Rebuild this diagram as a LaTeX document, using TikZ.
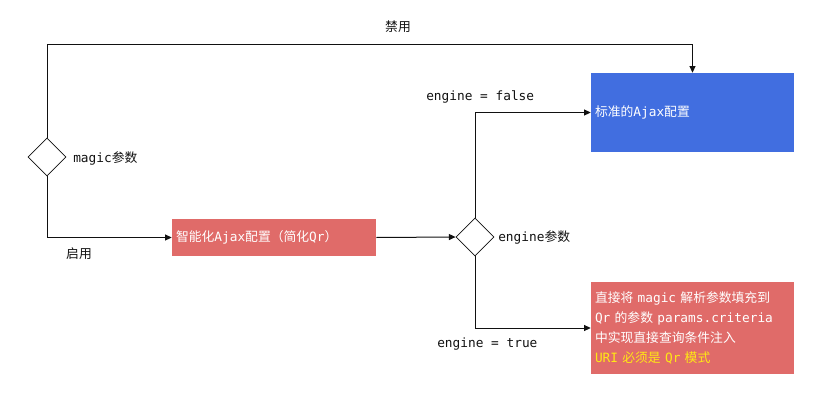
\documentclass[tikz,border=0pt]{standalone}
\usepackage{fontspec}
\setmainfont{DejaVu Sans Mono}
\newfontfamily\zhfont{Noto Sans CJK SC}
\newcommand{\zh}[1]{{\zhfont #1}}
\usepackage{tikz}
\usetikzlibrary{positioning,arrows.meta,calc,shapes.geometric}
\definecolor{cfgblue}{RGB}{65,110,224}
\definecolor{cfgred}{RGB}{224,107,105}
\definecolor{cfgyellow}{RGB}{255,232,20}
\definecolor{cfgink}{RGB}{17,17,17}
\tikzset{
  flow/.style={draw=cfgink, line width=0.75pt, -{Triangle[length=5pt,width=4.5pt]}},
  decision/.style={diamond, draw=cfgink, line width=0.6pt, minimum width=28.5pt,
    minimum height=28.5pt, inner sep=0pt},
  cfgbox/.style={rectangle, inner xsep=3pt, inner ysep=0pt, align=left, text=white,
    font=\fontsize{9.6}{15}\selectfont},
  lbl/.style={font=\fontsize{9.6}{12}\selectfont, text=cfgink, inner sep=0pt},
}
\begin{document}
\begin{tikzpicture}[x=0.75pt, y=-0.75pt]
\useasboundingbox (0,0) rectangle (840,418);

% ================= decisions =================
\node[decision] (magic) at (47,157) {};
\node[decision] (engine) at (475,237) {};

% ================= config boxes =================
\node[cfgbox, fill=cfgblue, text width=146.25pt, minimum height=59.25pt] (std)
  at (692.5,112.5) {\zh{标准的}Ajax\zh{配置}};
\node[cfgbox, fill=cfgred, text width=147pt, minimum height=27.75pt] (smart)
  at (274,237.5) {\zh{智能化}Ajax\zh{配置（简化}Qr\zh{）}};
\node[cfgbox, fill=cfgred, text width=146.25pt, minimum height=69pt] (direct)
  at (692.5,328)
  {\zh{直接将} magic \zh{解析参数填充到}\\
   Qr \zh{的参数} params.criteria\\
   \zh{中实现直接查询条件注入}\\
   \color{cfgyellow}URI \zh{必须是} Qr \zh{模式}};

% ================= connectors =================
% the disabled branch runs over the top of everything
\coordinate (ridge) at (47,44);
\draw[flow] (magic.north) -- (ridge) -| (std.north);
\draw[flow] (magic.south) |- (smart.west);
\draw[flow] (smart.east) -- (engine.west);
\draw[flow] (engine.north) |- (std.west);
\draw[flow] (engine.south) |- (direct.west);

% ================= labels =================
\node[lbl] (offlbl) at (398,27) {\zh{禁用}};
\node[lbl, anchor=west] (magiclbl) at (73,158) {magic\zh{参数}};
\node[lbl] (onlbl) at (79,254) {\zh{启用}};
\node[lbl, anchor=west] (falselbl) at (426,97) {engine = false};
\node[lbl, anchor=west] (englbl) at (498,237) {engine\zh{参数}};
\node[lbl, anchor=west] (truelbl) at (437,344) {engine = true};
\end{tikzpicture}
\end{document}
